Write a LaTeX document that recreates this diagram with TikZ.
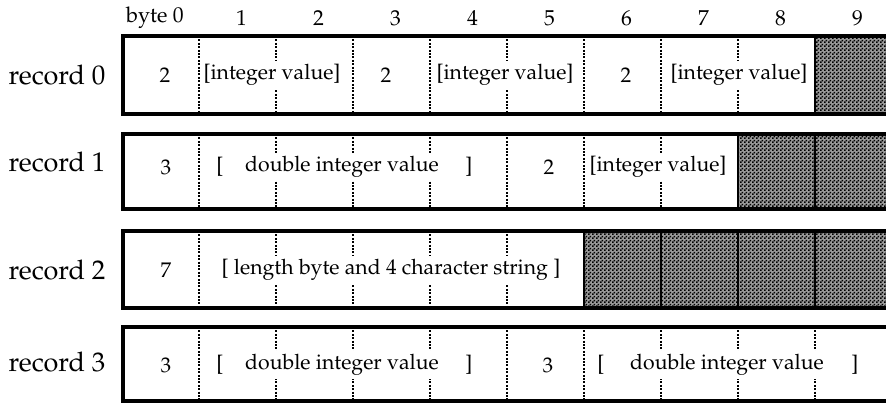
\documentclass[tikz,border=0pt]{standalone}
\usepackage[T1]{fontenc}
\renewcommand{\rmdefault}{ppl}
\usetikzlibrary{patterns.meta}

% 网点图案
\tikzdeclarepattern{
  name=halftone,
  type=uncolored,
  bottom left={(0pt,0pt)},
  top right={(2pt,2pt)},
  tile size={(2pt,2pt)},
  code={
    \fill (0pt,0pt) rectangle (1pt,1pt);
    \fill (1pt,1pt) rectangle (2pt,2pt);
  }
}

\newcommand{\recfont}{\fontsize{13.5}{16}\selectfont}
\newcommand{\numfont}{\fontsize{10.8}{12}\selectfont}
\newcommand{\fieldfont}{\fontsize{10.6}{12}\selectfont}

\tikzset{
  recbox/.style={line width=2.4pt},
  bytesep/.style={line width=1.3pt, dash pattern=on 1pt off 0.7pt},
  padcell/.style={fill=black!40, postaction={pattern={halftone}, pattern color=black}},
  padsep/.style={line width=1pt},
  field/.style={font=\fieldfont, fill=white, inner sep=1.5pt},
  bytelabel/.style={font=\numfont, inner sep=0pt},
  reclabel/.style={font=\recfont, inner sep=0pt}
}

\begin{document}
\begin{tikzpicture}[x=0.5pt, y=-0.5pt]
\useasboundingbox (0,0) rectangle (886,402);
\clip (0,0) rectangle (886,402);

% 填充区
\path[padcell] (815,36) rectangle (893,114);
\path[padcell] (738,134) rectangle (893,209);
\path[padcell] (584,231) rectangle (893,308);

% 字节分隔线
\foreach \k in {1,...,8} \draw[bytesep] ({122+77*\k},36) -- ({122+77*\k},114);
\foreach \k in {1,...,7} \draw[bytesep] ({122+77*\k},134) -- ({122+77*\k},209);
\foreach \k in {1,...,5} \draw[bytesep] ({122+77*\k},231) -- ({122+77*\k},308);
\foreach \k in {1,...,9} \draw[bytesep] ({122+77*\k},327) -- ({122+77*\k},401);

% 填充区分隔线
\draw[padsep] (815,36) -- (815,114);
\foreach \k in {8,9} \draw[padsep] ({122+77*\k},134) -- ({122+77*\k},209);
\foreach \k in {6,...,9} \draw[padsep] ({122+77*\k},231) -- ({122+77*\k},308);

% 记录边框
\foreach \t/\b in {36/114, 134/209, 231/308, 327/401}
  \draw[recbox] (893,\t) -| (123,\b) -- (893,\b);

% 字节编号
\node[bytelabel] (byte0) at (155,18) {byte 0};
\foreach \k in {1,...,9} \node[bytelabel] (byte\k) at ({164.5+77*\k},18) {\k};

% 记录名
\node[reclabel] (rec0) at (57,75) {record 0};
\node[reclabel] (rec1) at (57,162) {record 1};
\node[reclabel] (rec2) at (57,270) {record 2};
\node[reclabel] (rec3) at (57,362) {record 3};

% record 0
\node[field] (r0a) at (165,75) {2};
\node[field] (r0b) at (272,75) {[integer value]};
\node[field] (r0c) at (386,75) {2};
\node[field] (r0d) at (505,75) {[integer value]};
\node[field] (r0e) at (626,75) {2};
\node[field] (r0f) at (739,75) {[integer value]};

% record 1
\node[field] (r1a) at (166,167) {3};
\node[field] (r1b) at (220,167) {[};
\node[field] (r1c) at (342,167) {double integer value};
\node[field] (r1d) at (469,167) {]};
\node[field] (r1e) at (549,167) {2};
\node[field] (r1f) at (658,167) {[integer value]};

% record 2
\node[field] (r2a) at (166,270) {7};
\node[field] (r2b) at (391,270) {[~length byte and 4 character string~]};

% record 3
\node[field] (r3a) at (166,365) {3};
\node[field] (r3b) at (220,365) {[};
\node[field] (r3c) at (342,365) {double integer value};
\node[field] (r3d) at (469,365) {]};
\node[field] (r3e) at (548,365) {3};
\node[field] (r3f) at (601,365) {[};
\node[field] (r3g) at (727,365) {double integer value};
\node[field] (r3h) at (855,365) {]};

\end{tikzpicture}
\end{document}
